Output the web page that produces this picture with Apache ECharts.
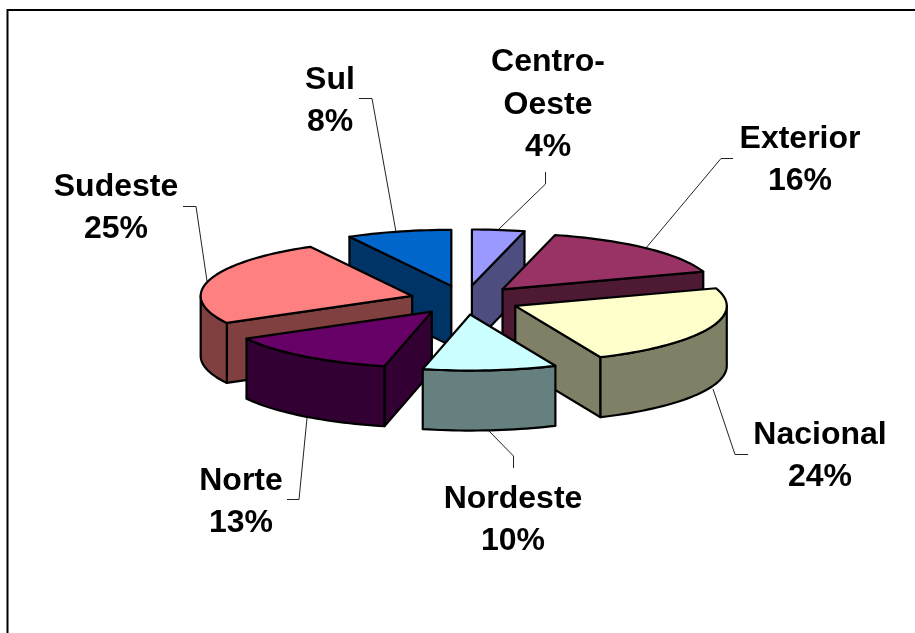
<!DOCTYPE html>
<html>
<head>
<meta charset="utf-8">
<title>Pie</title>
<style>
  html, body { margin: 0; padding: 0; background: #fff; }
  #chart { width: 915px; height: 633px; }
</style>
</head>
<body>
<div id="chart"></div>
<script src="https://cdn.jsdelivr.net/npm/echarts@6/dist/echarts.min.js"></script>
<script>
// clockwise from 12 o'clock
const categories = ['Centro-\nOeste', 'Exterior', 'Nacional', 'Nordeste', 'Norte', 'Sudeste', 'Sul']
const shares = [4, 15.9, 23.5, 10.2, 13.4, 25, 8]

const topColors = ['#9999ff', '#993366', '#ffffcc', '#ccffff', '#660066', '#ff8080', '#0066cc']
const sideColors = ['#4d4d80', '#4d1933', '#808066', '#668080', '#330033', '#804040', '#003366']

// label centre, then leader line from label to slice
const labelCenters = [[548, 105], [800, 160], [820, 456], [513, 520], [241, 502], [116, 208], [330, 101]]
const leaders = [
  [[545.5, 172], [545.5, 184], [497, 231]],
  [[733, 158.5], [721, 158.5], [646, 248]],
  [[748, 454.5], [735, 454.5], [713, 389]],
  [[513.5, 468], [513.5, 456], [488, 430]],
  [[287, 499.5], [299, 499.5], [307, 418]],
  [[183, 206.5], [196, 206.5], [207, 281]],
  [[359, 98.5], [372, 98.5], [396, 232]]
]

const cx = 465
const cy = 300
const radius = 211.5
const tilt = 0.265
const explode = 55
const depth = 60

const total = shares.reduce((a, b) => a + b, 0)

let acc = 0
const slices = shares.map((v, i) => {
  const start = acc / total * Math.PI * 2
  acc += v
  return [start, acc / total * Math.PI * 2, i]
})
// back slices first so the front ones paint over them
const drawOrder = slices.slice().sort((a, b) => Math.cos((b[0] + b[1]) / 2) - Math.cos((a[0] + a[1]) / 2))

function project(angle, r, mid, drop) {
  return [
    cx + r * Math.sin(angle) + explode * Math.sin(mid),
    cy - tilt * (r * Math.cos(angle) + explode * Math.cos(mid)) + drop
  ]
}

function face(points, fill) {
  return {
    type: 'polygon',
    shape: { points },
    style: { fill, stroke: '#000', lineWidth: 2.2, lineJoin: 'round' }
  }
}

function arcPoints(a, b, mid, drop) {
  const pts = []
  const steps = Math.max(2, Math.ceil((b - a) / 0.03))
  for (let i = 0; i <= steps; i++) {
    pts.push(project(a + (b - a) * i / steps, radius, mid, drop))
  }
  return pts
}

function renderSlice(params, api) {
  const a = api.value(0)
  const b = api.value(1)
  const idx = api.value(2)
  const mid = (a + b) / 2
  const side = sideColors[idx]
  const children = []

  const apex = project(0, 0, mid, 0)
  const apexLow = project(0, 0, mid, depth)

  if (Math.sin(a) < -1e-6) {
    children.push(face([apex, project(a, radius, mid, 0), project(a, radius, mid, depth), apexLow], side))
  }
  if (Math.sin(b) > 1e-6) {
    children.push(face([apex, project(b, radius, mid, 0), project(b, radius, mid, depth), apexLow], side))
  }
  // outer wall only where it faces the viewer
  const from = Math.max(a, Math.PI / 2)
  const to = Math.min(b, Math.PI * 1.5)
  if (to > from) {
    const upper = arcPoints(from, to, mid, 0)
    const lower = arcPoints(from, to, mid, depth).reverse()
    children.push(face(upper.concat(lower), side))
  }
  children.push(face([apex].concat(arcPoints(a, b, mid, 0)), topColors[idx]))

  return { type: 'group', children }
}

function renderLabel(params, api) {
  const idx = api.value(0)
  const pos = labelCenters[idx]
  return {
    type: 'group',
    children: [
      {
        type: 'polyline',
        shape: { points: leaders[idx] },
        style: { fill: null, stroke: '#222', lineWidth: 1 }
      },
      {
        type: 'text',
        style: {
          x: pos[0],
          y: pos[1],
          text: categories[idx] + '\n' + Math.round(shares[idx]) + '%',
          align: 'center',
          verticalAlign: 'middle',
          font: 'bold 32px "Liberation Sans", Arial, sans-serif',
          lineHeight: 42.5,
          fill: '#000'
        }
      }
    ]
  }
}

const myChart = echarts.init(document.getElementById('chart'), null, { renderer: 'canvas' })
myChart.setOption({
  animation: false,
  backgroundColor: '#fff',
  graphic: [
    {
      type: 'polyline',
      silent: true,
      shape: { points: [[7.5, 633], [7.5, 10], [915, 10]] },
      style: { fill: null, stroke: '#000', lineWidth: 2 }
    }
  ],
  series: [
    {
      type: 'custom',
      coordinateSystem: 'none',
      silent: true,
      z: 2,
      data: categories.map((c, i) => [i]),
      renderItem: renderLabel
    },
    {
      type: 'custom',
      coordinateSystem: 'none',
      silent: true,
      z: 3,
      data: drawOrder,
      renderItem: renderSlice
    }
  ]
})
</script>
</body>
</html>
